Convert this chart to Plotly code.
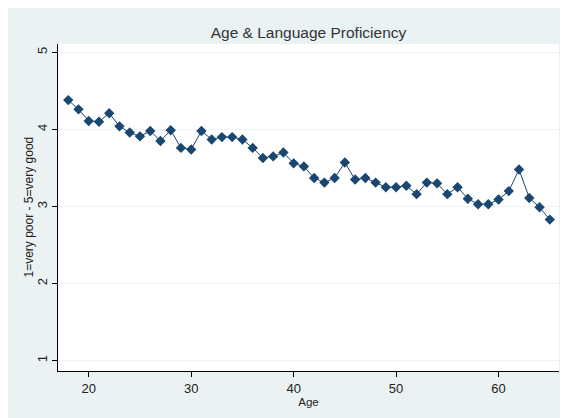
import plotly.graph_objects as go

# ── Datos ─────────────────────────────────────────────────────────────────────

ages = list(range(18, 66))
proficiency = [
    4.38, 4.26, 4.11, 4.10, 4.21, 4.04, 3.96, 3.91, 3.98, 3.85,
    3.99, 3.76, 3.74, 3.98, 3.87, 3.90, 3.90, 3.87, 3.76, 3.63,
    3.65, 3.70, 3.56, 3.52, 3.37, 3.31, 3.37, 3.57, 3.35, 3.37,
    3.31, 3.25, 3.25, 3.27, 3.16, 3.31, 3.30, 3.16, 3.25, 3.10,
    3.03, 3.03, 3.09, 3.20, 3.48, 3.11, 2.99, 2.83,
]
x_ticks = [20, 30, 40, 50, 60]
y_ticks = [1, 2, 3, 4, 5]

# ── Estilo ────────────────────────────────────────────────────────────────────

NAVY = "#1a476f"
BG = "#eaf2f3"
TEXT = "#222222"
FONT = "Liberation Sans, Arial, sans-serif"

W, H = 560, 410  # la página tiene 8px de margen del body
PLOT_W = W - 50 - 9

fig = go.Figure(go.Scatter(
    x=ages, y=proficiency,
    mode="lines+markers",
    line=dict(color=NAVY, width=1),
    marker=dict(symbol="diamond", size=8, color=NAVY),
    showlegend=False,
))

fig.update_layout(
    width=W, height=H,
    paper_bgcolor=BG,
    plot_bgcolor="white",
    font=dict(family=FONT, color=TEXT, size=13),
    margin=dict(l=50, r=9, t=36, b=47),
    title=dict(
        text="Age & Language Proficiency",
        x=0.5, xref="paper", xanchor="center",
        y=1 - 25 / H, yanchor="middle",
        font=dict(size=15.5, color="#333333"),
    ),
)

# título del eje Y como anotación, para fijar su posición
fig.add_annotation(
    text="1=very poor - 5=very good",
    xref="paper", yref="paper",
    x=-30 / PLOT_W, y=0.5,
    xanchor="center", yanchor="middle",
    textangle=-90, showarrow=False,
    font=dict(size=12, color=TEXT),
)

fig.update_xaxes(
    range=[17.0, 65.9],
    tickvals=x_ticks,
    ticks="outside", ticklen=5, tickcolor="black",
    showline=True, linecolor="black", linewidth=1,
    showgrid=False, zeroline=False,
    tickfont=dict(size=13),
    title=dict(text="Age", font=dict(size=11.5), standoff=0),
)

fig.update_yaxes(
    range=[0.866, 5.108],
    tickvals=y_ticks,
    tickangle=-90,
    ticks="outside", ticklen=5, tickcolor="black",
    showline=True, linecolor="black", linewidth=1,
    showgrid=True, gridcolor=BG, gridwidth=1, zeroline=False,
    tickfont=dict(size=13),
)

fig.write_html("out.html")
